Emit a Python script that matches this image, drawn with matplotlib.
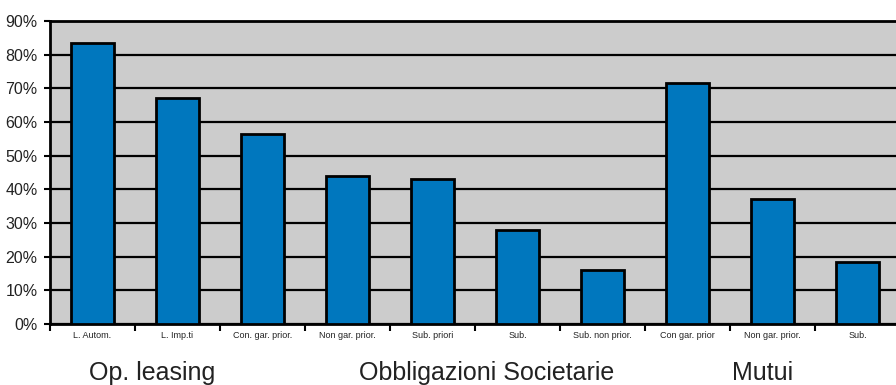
import matplotlib.pyplot as plt
import numpy as np

# share of recovered value per instrument
categories = ['L. Autom.', 'L. Imp.ti', 'Con. gar. prior.', 'Non gar. prior.',
              'Sub. priori', 'Sub.', 'Sub. non prior.', 'Con gar. prior',
              'Non gar. prior.', 'Sub.']
values = [83.5, 67, 56.5, 44, 43, 28, 16, 71.5, 37, 18.5]
groups = ['Op. leasing', 'Obbligazioni Societarie', 'Mutui']
yticks = [0, 10, 20, 30, 40, 50, 60, 70, 80, 90]

plt.rcParams['font.family'] = ['Liberation Sans', 'DejaVu Sans']

fig = plt.figure(figsize=(8.96, 3.85), dpi=100)
ax = fig.add_axes([50 / 896, 1 - 324 / 385, 850 / 896, 303 / 385])
ax.set_facecolor('#cccccc')

x = np.arange(len(categories))
ax.bar(x, values, width=0.5, color='#0077be', edgecolor='black',
       linewidth=2, zorder=3)

ax.set_xlim(-0.5, len(categories) - 0.5)
ax.set_ylim(0, 90)
ax.set_yticks(yticks)
ax.set_yticklabels(['%d%%' % v for v in yticks], fontsize=11.5, color='#222222')
ax.yaxis.grid(True, color='black', linewidth=1.6, zorder=1)
ax.tick_params(axis='y', direction='out', length=4, width=1.5, pad=5)

# labels under each bar, ticks between the bars
ax.set_xticks(x)
ax.set_xticklabels(categories, fontsize=6.5, color='#222222')
ax.set_xticks(np.arange(len(categories) + 1) - 0.5, minor=True)
ax.tick_params(axis='x', which='major', length=0, pad=5)
ax.tick_params(axis='x', which='minor', direction='out', length=5, width=1.5)

for side in ['left', 'bottom', 'top', 'right']:
    ax.spines[side].set_linewidth(2)

group_pos = [0.70, 4.64, 7.88]
for name, gx in zip(groups, group_pos):
    ax.text(gx, -14.5, name, ha='center', va='center', fontsize=18,
            color='#222222', transform=ax.transData, clip_on=False)

fig.savefig('out.png', dpi=100)
